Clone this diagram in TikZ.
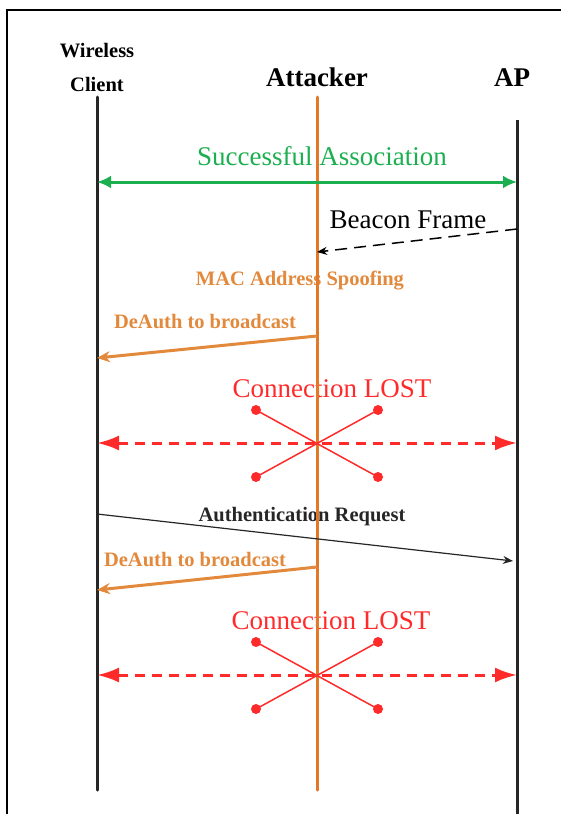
\documentclass[tikz,border=0pt]{standalone}
\usepackage{fontspec}
\setmainfont{Liberation Serif}
\usepackage{xcolor}
\usetikzlibrary{arrows.meta}
\definecolor{atkorange}{HTML}{E07A2A}
\definecolor{lblorange}{HTML}{E2893C}
\definecolor{assocgreen}{HTML}{1BAF4F}
\definecolor{lostred}{HTML}{FF2A2A}

\begin{document}
\begin{tikzpicture}[x=1pt,y=-1pt,
 big/.style={font=\fontsize{27}{30}\selectfont,anchor=base},
 small/.style={font=\fontsize{20.5}{24}\selectfont\bfseries,anchor=base},
 actor/.style={font=\fontsize{27}{30}\selectfont\bfseries,anchor=base},
 lifeline/.style={line width=3pt,line cap=round},
 assoc/.style={{Latex[length=14pt,width=13pt]}-{Latex[length=14pt,width=13pt]},line width=3pt,assocgreen},
 lost/.style={{Latex[length=22pt,width=15pt]}-{Latex[length=22pt,width=15pt]},line width=3pt,lostred,dash pattern=on 10pt off 7pt},
 cross/.style={lostred,line width=1.5pt},
 deauth/.style={-{Stealth[length=13pt,width=11pt]},line width=3pt,lblorange},
 msg/.style={-{Stealth[length=10pt,width=8pt]},line width=1.5pt},
 dot/.style={circle,fill=lostred,inner sep=0pt,minimum size=10pt}]
\useasboundingbox (0,0) rectangle (561,814);
% frame
\draw[line width=2pt] (7,814) -- (7,10) -- (561,10);
% actors
\node[small] (wl) at (97,57) {Wireless};
\node[small] (cl) at (97,91) {Client};
\node[actor] (atk) at (317,86) {Attacker};
\node[actor] (ap) at (512,86) {AP};
% labels
\node[big,assocgreen] (assoclbl) at (322,165) {Successful Association};
\node[big] (beacon) at (408,228) {Beacon Frame};
\node[small,lblorange] (spoof) at (300,285) {MAC Address Spoofing};
\node[small,lblorange] (deauth1) at (205,328) {DeAuth to broadcast};
\node[big,lostred] (lost1) at (332,397) {Connection LOST};
\node[small,black!85] (authreq) at (302,521) {Authentication Request};
\node[small,lblorange] (deauth2) at (195,566) {DeAuth to broadcast};
\node[big,lostred] (lost2) at (331,629) {Connection LOST};
% lifelines
\coordinate (cltop) at (97,97); \coordinate (clbot) at (97,790);
\coordinate (atktop) at (317,97); \coordinate (atkbot) at (317,790);
\coordinate (aptop) at (517,120); \coordinate (apbot) at (517,814);
\draw[lifeline,black!85] (cltop) -- (clbot);
\draw[lifeline,atkorange] (atktop) -- (atkbot);
\draw[lifeline,black!85,line cap=butt] (aptop) -- (apbot);
% message end points
\coordinate (a1) at (97,182); \coordinate (a2) at (517,182);
\coordinate (b1) at (517,229); \coordinate (b2) at (317,252);
\coordinate (d1) at (317,336); \coordinate (d2) at (97,358);
\coordinate (l1) at (97,443); \coordinate (l2) at (517,443);
\coordinate (r1) at (97,514); \coordinate (r2) at (513,561);
\coordinate (e1) at (317,567); \coordinate (e2) at (97,590);
\coordinate (k1) at (97,675); \coordinate (k2) at (517,675);
% messages
\draw[assoc] (a1) -- (a2);
\draw[msg,dashed,dash pattern=on 12pt off 7pt] (b1) -- (b2);
\draw[deauth] (d1) -- (d2);
\draw[lost] (l1) -- (l2);
\draw[msg,black!85,line width=1.2pt] (r1) -- (r2);
\draw[deauth] (e1) -- (e2);
\draw[lost] (k1) -- (k2);
% broken links
\foreach \cy/\nm in {443/xa,675/xb}{
  \node[dot] (\nm1) at (256,\cy-33) {};
  \node[dot] (\nm2) at (378,\cy-33) {};
  \node[dot] (\nm3) at (256,\cy+34) {};
  \node[dot] (\nm4) at (378,\cy+34) {};
  \draw[cross] (\nm1.center) -- (\nm4.center);
  \draw[cross] (\nm2.center) -- (\nm3.center);
}
\end{tikzpicture}
\end{document}
